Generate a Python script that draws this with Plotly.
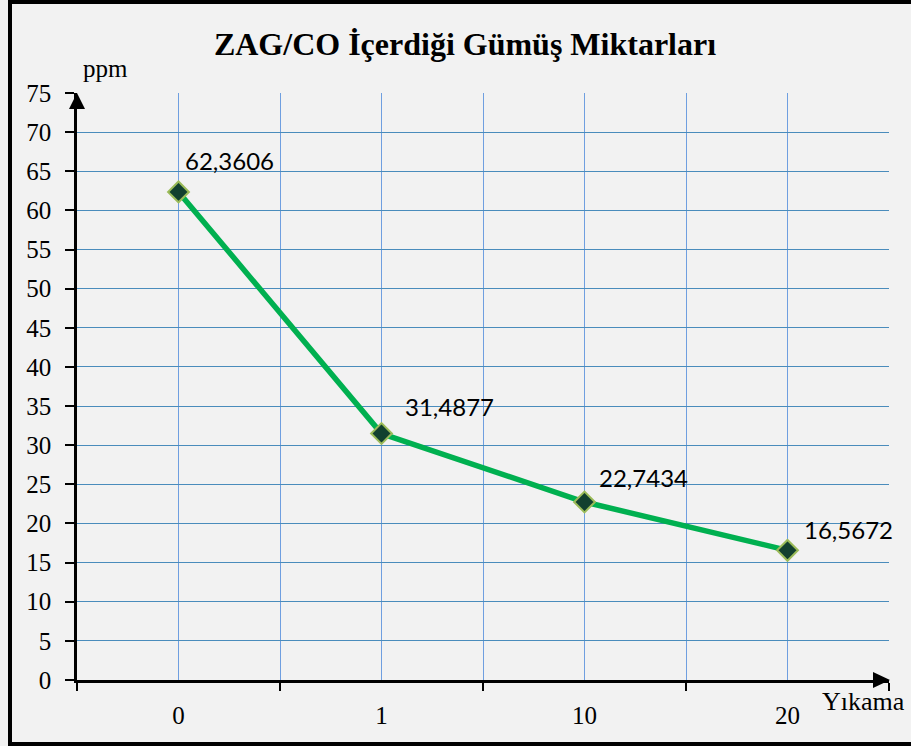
import plotly.graph_objects as go

categories = ["0", "1", "10", "20"]
silver_ppm = [62.3606, 31.4877, 22.7434, 16.5672]
y_ticks = list(range(0, 80, 5))

# label nudges in px (Excel-style manual placement)
label_dx = [4, 21, 12, 14]
label_dy = [15, 11, 8, 4]

x_pos = list(range(len(categories)))
labels = [f"{v:.4f}".replace(".", ",") for v in silver_ppm]

serif = "Liberation Serif, Times New Roman, serif"
sans = "Lato, Carlito, Calibri, sans-serif"

fig = go.Figure()
fig.add_trace(go.Scatter(
    x=x_pos,
    y=silver_ppm,
    mode="lines+markers",
    line=dict(color="#00b050", width=5.5),
    marker=dict(symbol="diamond", size=16, color="#12402f",
                line=dict(color="#9bbb59", width=2)),
    showlegend=False,
    hoverinfo="skip",
))

for xp, v, t, dx, dy in zip(x_pos, silver_ppm, labels, label_dx, label_dy):
    fig.add_annotation(x=xp, y=v, text=t, showarrow=False,
                       xanchor="left", yanchor="bottom", xshift=dx, yshift=dy,
                       font=dict(family=sans, size=24, color="black"))

W, H = 911, 746
L, R, T, B = 77, 22, 93, 66
pw, ph = W - L - R, H - T - B


def px(x):
    return (x - L) / pw


def py(y):
    return (H - B - y) / ph


# axis arrowheads
fig.add_shape(type="path", xref="paper", yref="paper",
              path=f"M {px(77)} {py(93)} L {px(69)} {py(109)} L {px(85)} {py(109)} Z",
              fillcolor="black", line=dict(width=0))
fig.add_shape(type="path", xref="paper", yref="paper",
              path=f"M {px(890)} {py(680)} L {px(873)} {py(672)} L {px(873)} {py(688)} Z",
              fillcolor="black", line=dict(width=0))
# outer frame
fig.add_shape(type="rect", xref="paper", yref="paper",
              x0=px(10), x1=px(916), y0=py(744), y1=py(2),
              line=dict(color="black", width=4))

fig.add_annotation(xref="paper", yref="paper", x=px(81), y=py(68),
                   xanchor="left", yanchor="middle", text="ppm", showarrow=False,
                   font=dict(family=serif, size=25, color="black"))
fig.add_annotation(xref="paper", yref="paper", x=px(820), y=py(701),
                   xanchor="left", yanchor="middle", text="Yıkama", showarrow=False,
                   font=dict(family=serif, size=26, color="black"))

fig.update_layout(
    width=W, height=H,
    margin=dict(l=L, r=R, t=T, b=B),
    paper_bgcolor="#f2f2f2",
    plot_bgcolor="#f2f2f2",
    title=dict(text="<b>ZAG/CO İçerdiği Gümüş Miktarları</b>",
               x=465 / W, xanchor="center", y=1 - 44 / H, yanchor="middle",
               font=dict(family=serif, size=32, color="black")),
)
fig.update_xaxes(
    range=[-0.5, len(categories) - 0.5],
    tickmode="array", tickvals=x_pos, ticktext=categories,
    ticks="", showgrid=True, gridcolor="#6f9fe0", gridwidth=1.3,
    showline=True, linecolor="black", linewidth=2.5,
    zeroline=False, ticklabelstandoff=11,
    tickfont=dict(family=serif, size=25, color="black"),
    minor=dict(tick0=-0.5, dtick=1, ticks="outside", ticklen=8,
               tickcolor="black", tickwidth=2, showgrid=True,
               gridcolor="#6f9fe0", gridwidth=1.3),
)
fig.update_yaxes(
    range=[0, 75], tickmode="array", tickvals=y_ticks,
    ticks="outside", ticklen=9, tickcolor="black", tickwidth=2,
    showgrid=True, gridcolor="#4a8cbc", gridwidth=1.3,
    showline=True, linecolor="black", linewidth=2.5,
    zeroline=False, ticklabelstandoff=9,
    tickfont=dict(family=serif, size=25, color="black"),
)

fig.write_html("out.html", config={"displayModeBar": False},
               post_script="document.body.style.margin='0';")
